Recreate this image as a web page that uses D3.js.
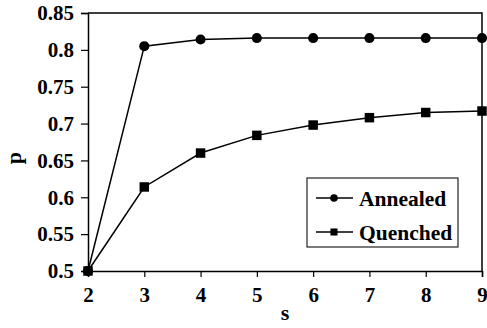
<!DOCTYPE html>
<html>
<head>
<meta charset="utf-8">
<script src="https://cdn.jsdelivr.net/npm/d3@7"></script>
<style>
    body { margin: 0; background: #fff; }
    svg { display: block; }
    svg text { font-family: "Liberation Serif", Tinos, "Times New Roman", Times, "DejaVu Serif", serif !important; font-weight: bold; }
</style>
</head>
<body>
<div id="chart"></div>
<script>
// values
const sValues = [2, 3, 4, 5, 6, 7, 8, 9];
const annealed = [0.5, 0.805, 0.814, 0.816, 0.816, 0.816, 0.816, 0.816];
const quenched = [0.5, 0.614, 0.66, 0.684, 0.698, 0.708, 0.715, 0.717];
const yTicks = [0.5, 0.55, 0.6, 0.65, 0.7, 0.75, 0.8, 0.85];
const yTickLabels = ["0.5", "0.55", "0.6", "0.65", "0.7", "0.75", "0.8", "0.85"];
const seriesNames = ["Annealed", "Quenched"];

const width = 487, height = 328;
const margin = { top: 13, right: 5, bottom: 57, left: 88 };
const innerW = width - margin.left - margin.right;
const innerH = height - margin.top - margin.bottom;

const svg = d3.select("#chart").append("svg")
    .attr("width", width)
    .attr("height", height);

const g = svg.append("g")
    .attr("transform", `translate(${margin.left},${margin.top})`);

const x = d3.scaleLinear().domain([2, 9]).range([0, innerW]);
const y = d3.scaleLinear().domain([0.5, 0.85]).range([innerH, 0]);

// frame (top and right)
g.append("path")
    .attr("d", `M0,0H${innerW}V${innerH}`)
    .attr("fill", "none")
    .attr("stroke", "#000")
    .attr("stroke-width", 1.5);

// axes
const xAxis = g.append("g")
    .attr("transform", `translate(0,${innerH})`)
    .call(d3.axisBottom(x).tickValues(sValues).tickFormat(d3.format("d")).tickSize(6).tickPadding(10));

const yAxis = g.append("g")
    .call(d3.axisLeft(y).tickValues(yTicks).tickFormat((d, i) => yTickLabels[i]).tickSize(7).tickPadding(7));

[xAxis, yAxis].forEach(ax => {
    ax.attr("font-family", null).attr("font-size", null);
    ax.selectAll(".domain").attr("stroke", "#000").attr("stroke-width", 1.5);
    ax.selectAll(".tick line").attr("stroke", "#000").attr("stroke-width", 1.2);
    ax.selectAll("text")
        .attr("fill", "#000")
        .style("font-size", "21px");
});

// axis titles
svg.append("text")
    .attr("x", margin.left + innerW / 2)
    .attr("y", 320)
    .attr("text-anchor", "middle")
    .style("font-size", "22px")
    .text("s");

svg.append("text")
    .attr("transform", "translate(21,158) rotate(-90)")
    .attr("text-anchor", "middle")
    .style("font-size", "22px")
    .text("p");

// lines and markers
const line = d3.line()
    .x((d, i) => x(sValues[i]))
    .y(d => y(d));

[annealed, quenched].forEach((vals, k) => {
    g.append("path")
        .datum(vals)
        .attr("d", line)
        .attr("fill", "none")
        .attr("stroke", "#000")
        .attr("stroke-width", 1.5);

    g.append("g").selectAll("path")
        .data(vals)
        .join("path")
        .attr("transform", (d, i) => `translate(${x(sValues[i])},${y(d)})`)
        .attr("fill", "#000")
        .attr("d", k === 0
            ? d3.symbol(d3.symbolCircle, 80)()
            : d3.symbol(d3.symbolSquare, 90)());
});

// legend
const legend = svg.append("g").attr("transform", "translate(307,178)");
legend.append("rect")
    .attr("width", 151)
    .attr("height", 69)
    .attr("fill", "#fff")
    .attr("stroke", "#222")
    .attr("stroke-width", 1.2);

seriesNames.forEach((name, k) => {
    const cy = 20 + k * 34;
    legend.append("line")
        .attr("x1", 9).attr("x2", 46)
        .attr("y1", cy).attr("y2", cy)
        .attr("stroke", "#000")
        .attr("stroke-width", 1.5);
    legend.append("path")
        .attr("transform", `translate(27,${cy})`)
        .attr("fill", "#000")
        .attr("d", k === 0
            ? d3.symbol(d3.symbolCircle, 45)()
            : d3.symbol(d3.symbolSquare, 50)());
    legend.append("text")
        .attr("x", 52)
        .attr("y", cy + 8)
        .style("font-size", "21.5px")
        .text(name);
});
</script>
</body>
</html>
